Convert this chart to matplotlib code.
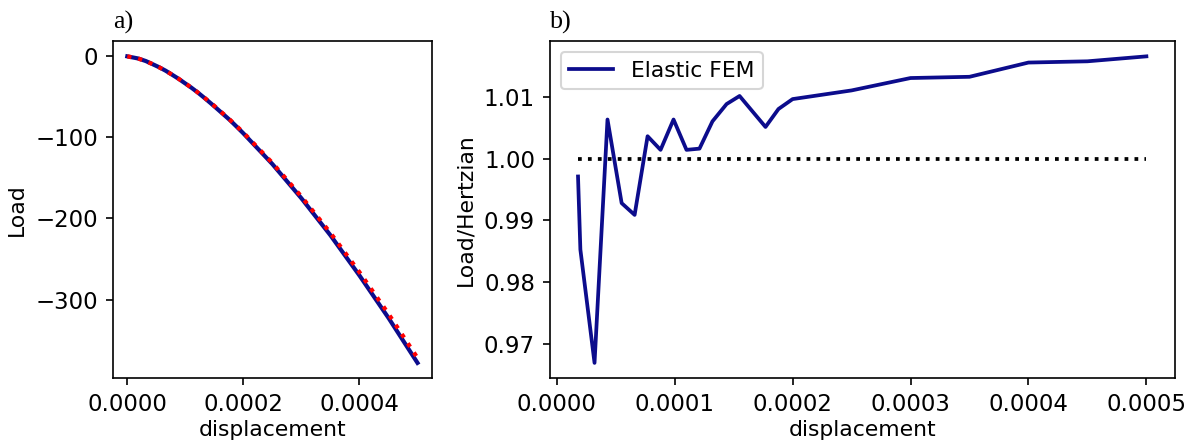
import matplotlib
matplotlib.use('Agg')
import matplotlib.pyplot as plt

# displacement samples of the FEM runs
displacement = [0.0, 1.8e-5, 2.0e-5, 3.2e-5, 4.3e-5, 5.5e-5, 6.6e-5, 7.7e-5,
                8.8e-5, 9.9e-5, 1.1e-4, 1.21e-4, 1.32e-4, 1.44e-4, 1.55e-4,
                1.77e-4, 1.88e-4, 2.0e-4, 2.5e-4, 3.0e-4, 3.5e-4, 4.0e-4,
                4.5e-4, 5.0e-4]
load_fem = [0.0, -2.53, -2.94, -5.82, -9.44, -13.47, -17.68, -22.56, -27.50,
            -32.98, -38.43, -44.35, -50.76, -58.0, -64.85, -78.75, -86.45,
            -95.0, -132.9, -175.1, -220.7, -270.3, -322.6, -378.1]
load_hertz = [0.0, -2.54, -2.98, -6.02, -9.38, -13.57, -17.84, -22.48,
              -27.46, -32.77, -38.38, -44.28, -50.46, -57.49, -64.20, -78.35,
              -85.76, -94.10, -131.5, -172.9, -217.8, -266.2, -317.6, -372.0]
ratio = [0.9971, 0.9853, 0.9670, 1.0063, 0.9928, 0.9909, 1.0036, 1.0014,
         1.0063, 1.0014, 1.0016, 1.0060, 1.0088, 1.0101, 1.0051, 1.0080,
         1.0096, 1.0110, 1.0130, 1.0132, 1.0155, 1.0157, 1.0165]
ratio_ref = [1.0, 1.0]

blue = '#0c0c8c'
plt.rcParams['xtick.labelsize'] = 11
plt.rcParams['ytick.labelsize'] = 11
plt.rcParams['axes.labelsize'] = 10.5

fig = plt.figure(figsize=(8, 446 / 150), dpi=150)
ax1 = fig.add_axes([0.094, 0.152, 0.266, 0.756])
ax2 = fig.add_axes([0.458, 0.152, 0.521, 0.756])

ax1.plot(displacement, load_fem, color=blue, lw=2)
ax1.plot(displacement, load_hertz, 'r:', lw=2)
ax1.set_xlabel('displacement', labelpad=2)
ax1.set_ylabel('Load')
ax1.set_title('a)', loc='left', family='Liberation Serif', fontsize=12.5)
ax1.set_xticks([0, 2e-4, 4e-4])
ax1.set_xticklabels(['0.0000', '0.0002', '0.0004'])

ax2.plot(displacement[1:], ratio, color=blue, lw=1.8, label='Elastic FEM')
ax2.plot([displacement[1], displacement[-1]], ratio_ref, 'k:', lw=1.8)
ax2.set_xlabel('displacement', labelpad=2)
ax2.set_ylabel('Load/Hertzian')
ax2.set_title('b)', loc='left', family='Liberation Serif', fontsize=12.5)
ax2.set_xticks([0, 1e-4, 2e-4, 3e-4, 4e-4, 5e-4])
ax2.set_xticklabels(['0.0000', '0.0001', '0.0002', '0.0003', '0.0004', '0.0005'])
ax2.set_yticks([0.97, 0.98, 0.99, 1.00, 1.01])
ax2.legend(loc='upper left', fontsize=10.5)

fig.savefig('out.png', dpi=150)
